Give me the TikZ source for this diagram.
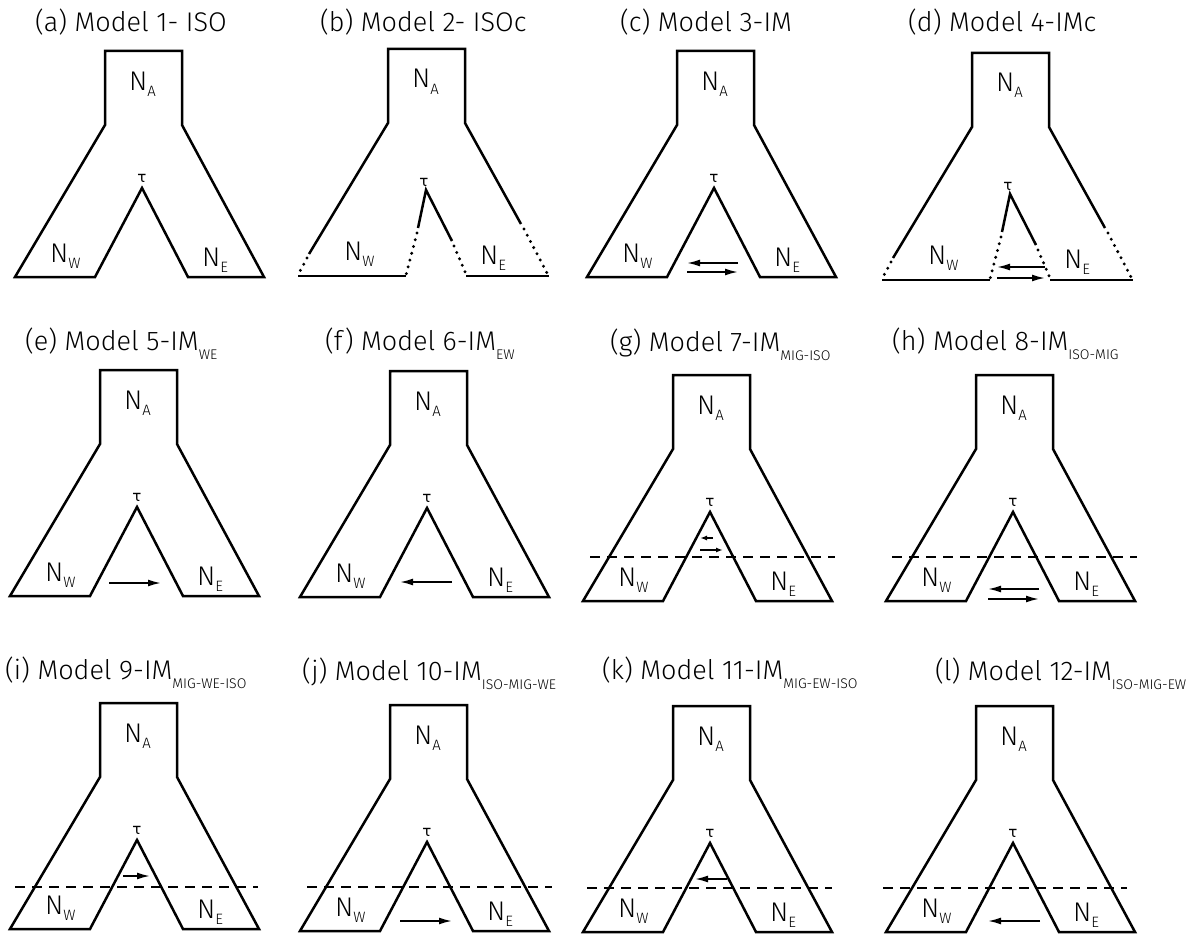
\documentclass[tikz,border=0pt]{standalone}
\usepackage{fontspec}
\setmainfont{Fira Sans}[UprightFont=* Light]
\newfontfamily\taufont{DejaVu Sans}
\usetikzlibrary{arrows.meta}
\newcommand\lsub[3]{\raisebox{-#1}{\fontsize{#2}{#2}\selectfont #3}}
\newcommand\Nl[1]{{\fontsize{27}{27}\selectfont N}\lsub{6pt}{15}{#1}}
\newcommand\Tsub[1]{\lsub{9.5pt}{14}{#1}}
\tikzset{
  pop/.style={line width=2.5pt, line join=miter},
  dotl/.style={line width=3.3pt, line cap=round, dash pattern=on 0pt off 7pt},
  dashl/.style={line width=2.5pt, dash pattern=on 10pt off 7pt},
  lab/.style={inner sep=0pt, anchor=base west},
  ttl/.style={inner sep=0pt, anchor=base west, font=\fontsize{27}{27}\selectfont},
  taul/.style={inner sep=0pt, anchor=base, font=\taufont\fontsize{15}{15}\selectfont},
  mig/.style={line width=1.8pt, -{Latex[length=13pt,width=7pt]}},
  migs/.style={line width=1.4pt, -{Latex[length=7pt,width=5pt]}},
}
% standard population shape: name, X (box left), Y (shoulder)
\newcommand\stdpop[3]{%
  \begin{scope}[shift={(#2,#3)}]
    \draw[pop] (0,0) -- (0,-74) -- (77,-74) -- (77,0) -- (159,152) -- (83,152)
      -- (37,63) -- (-10,152) -- (-90,152) -- cycle;
    \node[lab] (#1-NA) at (24,-35) {\Nl{A}};
    \node[lab] (#1-NW) at (-55,137) {\Nl{W}};
    \node[lab] (#1-NE) at (97,141) {\Nl{E}};
    \node[taul] (#1-tau) at (37,57) {τ};
  \end{scope}}
% population shape with dotted (contracting) lower parts
\newcommand\cpop[3]{%
  \begin{scope}[shift={(#2,#3)}]
    \draw[pop] (-79,131) -- (0,0) -- (0,-74) -- (77,-74) -- (77,0) -- (133,101);
    \draw[pop] (30,105) -- (38,67) -- (64,118);
    \draw[pop] (-90,153) -- (18,153);
    \draw[pop] (78,153) -- (161,153);
    \draw[dotl] (-81,135) -- (-90,152);
    \draw[dotl] (29,110) -- (18,152);
    \draw[dotl] (66,123) -- (78,151);
    \draw[dotl] (136,106) -- (159,150);
    \node[lab] (#1-NA) at (24,-35) {\Nl{A}};
    \node[lab] (#1-NW) at (-44,137) {\Nl{W}};
    \node[lab] (#1-NE) at (92,141) {\Nl{E}};
    \node[taul] (#1-tau) at (36,63) {τ};
  \end{scope}}
% migration arrow: name, style, start, end
\newcommand\migarrow[4]{%
  \coordinate (#1-s) at (#3);
  \coordinate (#1-e) at (#4);
  \draw[#2] (#1-s) -- (#1-e);}
\newcommand\splitline[3]{%
  \coordinate (#1-l) at (#2);
  \coordinate (#1-r) at (#3);
  \draw[dashl] (#1-l) -- (#1-r);}
\begin{document}
\begin{tikzpicture}[x=1pt,y=-1pt]
\useasboundingbox (0,0) rectangle (1197,934);
% row 1
\node[ttl] (a-title) at (35,32) {(a) Model 1- ISO};
\node[ttl] (b-title) at (320,32) {(b) Model 2- ISOc};
\node[ttl] (c-title) at (620,32) {(c) Model 3-IM};
\node[ttl] (d-title) at (908,32) {(d) Model 4-IMc};
\stdpop{a}{105}{125}
\cpop{b}{388}{123}
\stdpop{c}{677}{125}
\cpop{d}{972}{127}
\migarrow{c1}{mig}{738,263}{687,263}
\migarrow{c2}{mig}{687,272}{738,272}
\migarrow{d1}{mig}{1045,267}{997,267}
\migarrow{d2}{mig}{997,278}{1045,278}
% row 2
\node[ttl] (e-title) at (25,350) {(e) Model 5-IM\Tsub{WE}};
\node[ttl] (f-title) at (325,350) {(f) Model 6-IM\Tsub{EW}};
\node[ttl] (g-title) at (610,351) {(g) Model 7-IM\Tsub{MIG-ISO}};
\node[ttl] (h-title) at (892,350) {(h) Model 8-IM\Tsub{ISO-MIG}};
\stdpop{e}{100}{444}
\stdpop{f}{390}{445}
\stdpop{g}{673}{449}
\stdpop{h}{976}{449}
\migarrow{e1}{mig}{109,583}{161,583}
\migarrow{f1}{mig}{452,582}{400,582}
\splitline{g0}{590,557}{835,557}
\migarrow{g1}{migs}{713,538}{700,538}
\migarrow{g2}{migs}{700,550}{723,550}
\splitline{h0}{892,557}{1137,557}
\migarrow{h1}{mig}{1039,589}{988,589}
\migarrow{h2}{mig}{988,599}{1039,599}
% row 3
\node[ttl] (i-title) at (5,679) {(i) Model 9-IM\Tsub{MIG-WE-ISO}};
\node[ttl] (j-title) at (302,680) {(j) Model 10-IM\Tsub{ISO-MIG-WE}};
\node[ttl] (k-title) at (602,679) {(k) Model 11-IM\Tsub{MIG-EW-ISO}};
\node[ttl] (l-title) at (935,680) {(l) Model 12-IM\Tsub{ISO-MIG-EW}};
\stdpop{i}{100}{777}
\stdpop{j}{390}{779}
\stdpop{k}{673}{780}
\stdpop{l}{976}{780}
\splitline{i0}{15,887}{258,887}
\migarrow{i1}{mig}{123,876}{150,876}
\splitline{j0}{307,887}{552,887}
\migarrow{j1}{mig}{400,921}{452,921}
\splitline{k0}{587,888}{832,888}
\migarrow{k1}{mig}{727,879}{695,879}
\splitline{l0}{883,888}{1127,888}
\migarrow{l1}{mig}{1040,921}{988,921}
\end{tikzpicture}
\end{document}
